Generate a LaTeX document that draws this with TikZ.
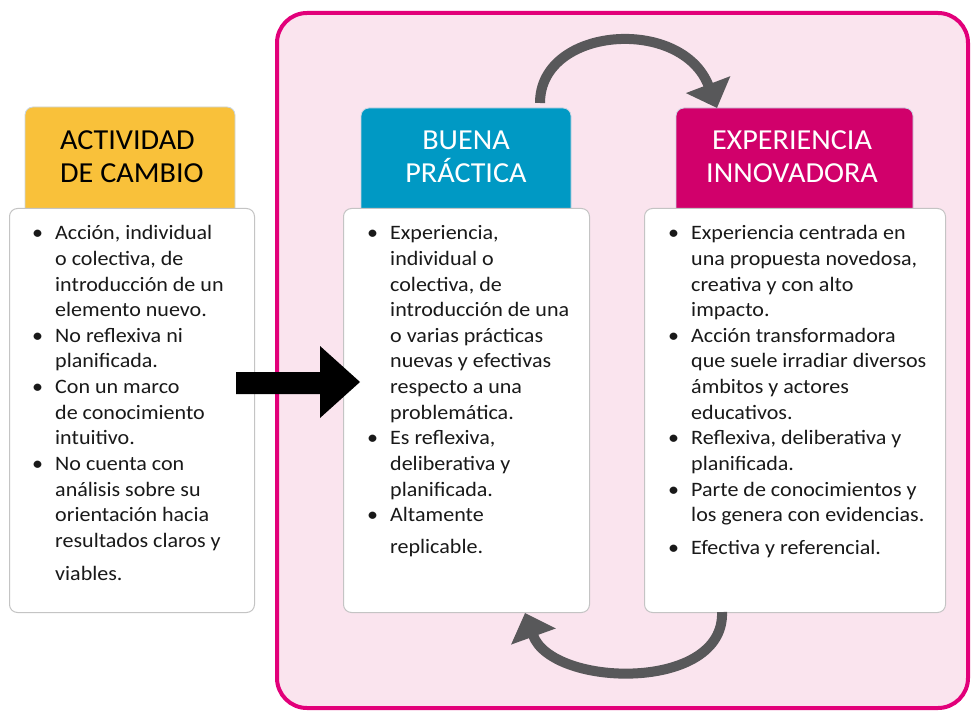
\documentclass[tikz,border=0pt]{standalone}
\usepackage{fontspec}
\setmainfont{Carlito}
\newfontfamily\bodyff{Carlito}[FakeStretch=1.075]
\newfontfamily\hdrff{Carlito}[FakeStretch=1.04]
\usetikzlibrary{arrows.meta}
\definecolor{hyellow}{HTML}{F9C13A}
\definecolor{hblue}{HTML}{0099C4}
\definecolor{hmag}{HTML}{D1006B}
\definecolor{pinkbg}{HTML}{FAE4EE}
\definecolor{pinkline}{HTML}{E2007A}
\definecolor{agray}{HTML}{58585A}
\definecolor{bgray}{HTML}{C4C4C4}
\definecolor{hline}{HTML}{C9D6E3}
\newcommand\itm[1]{\par\noindent\hangindent=23pt\hangafter=1\makebox[23pt][l]{\textbullet}#1}
\newcommand\bodyfont{\bodyff\fontsize{20.5}{25.6}\selectfont}
\newcommand\hdrfont{\hdrff\fontsize{29}{33}\selectfont}
\tikzset{
  hdr/.style={rounded corners=8pt, draw=hline, line width=0.8pt},
  bodybox/.style={rounded corners=8pt, fill=white, draw=bgray, line width=1pt, anchor=north west, inner sep=0pt, minimum height=404pt},
  bodytext/.style={anchor=base west, inner sep=0pt, text=black!90},
  hdrtext/.style={inner sep=0pt, anchor=base},
  cyc/.style={draw=agray, line width=10pt, -{Triangle[length=25pt,width=46pt]}},
}
\newcommand\bodytxt[1]{\begin{minipage}[t]{280pt}\bodyfont\parindent=0pt #1\end{minipage}}
\newcommand\hdrtxt[1]{\begin{minipage}[t]{230pt}\hdrfont\centering #1\end{minipage}}
\begin{document}
\begin{tikzpicture}[x=1pt,y=-1pt]
\useasboundingbox (0,0) rectangle (971,711);
\fill[white] (0,0) rectangle (971,711);
% big pink panel
\draw[pinkline, fill=pinkbg, line width=4pt, rounded corners=30pt] (277,13) rectangle (968,708);
% headers
\draw[hdr, fill=hyellow] (25,107) rectangle (235,230);
\draw[hdr, fill=hblue] (361,108) rectangle (571,230);
\draw[hdr, fill=hmag] (676,108) rectangle (913,230);
% bodies
\node[bodybox, minimum width=245pt] (b1) at (9,208) {};
\node[bodybox, minimum width=246pt] (b2) at (343,208) {};
\node[bodybox, minimum width=301pt] (b3) at (644,208) {};
% header texts
\node[inner sep=0pt, anchor=base west] (h1) at (60,150) {\begin{minipage}[t]{200pt}\hdrfont ACTIVIDAD\\DE CAMBIO\end{minipage}};
\node[hdrtext, text=white] (h2) at (466,150) {\hdrtxt{BUENA\\PRÁCTICA}};
\node[hdrtext, text=white] (h3) at (792,150) {\hdrtxt{EXPERIENCIA\\INNOVADORA}};
% body texts
\node[bodytext] (t1) at (32,240) {\bodytxt{%
\itm{Acción, individual\\o colectiva, de\\introducción de un\\elemento nuevo.}
\itm{No reflexiva ni\\planificada.}
\itm{Con un marco\\de conocimiento\\intuitivo.}
\itm{No cuenta con\\análisis sobre su\\orientación hacia\\resultados claros y\\[8pt]viables.}}};
\node[bodytext] (t2) at (367,240) {\bodytxt{%
\itm{Experiencia,\\individual o\\colectiva, de\\introducción de una\\o varias prácticas\\nuevas y efectivas\\respecto a una\\problemática.}
\itm{Es reflexiva,\\deliberativa y\\planificada.}
\itm{Altamente\\[6pt]replicable.}}};
\node[bodytext] (t3) at (668,240) {\bodytxt{%
\itm{Experiencia centrada en\\una propuesta novedosa,\\creativa y con alto\\impacto.}
\itm{Acción transformadora\\que suele irradiar diversos\\ámbitos y actores\\educativos.}
\itm{Reflexiva, deliberativa y\\planificada.}
\itm{Parte de conocimientos y\\los genera con evidencias.}\par\vspace{7pt}
\itm{Efectiva y referencial.}}};
% black block arrow from box 1 to box 2
\fill[black] (236,372) -- (320,372) -- (320,346) -- (360,382) -- (320,418) -- (320,394) -- (236,394) -- cycle;
% cycle arrows
\coordinate (s1) at (540,103);
\coordinate (e1) at (717,108);
\coordinate (s2) at (722,612);
\coordinate (e2) at (525,613);
\draw[cyc] (s1) .. controls (540,26) and (682,16) .. (e1);
\draw[cyc] (s2) .. controls (725,692) and (552,688) .. (e2);
\end{tikzpicture}
\end{document}
